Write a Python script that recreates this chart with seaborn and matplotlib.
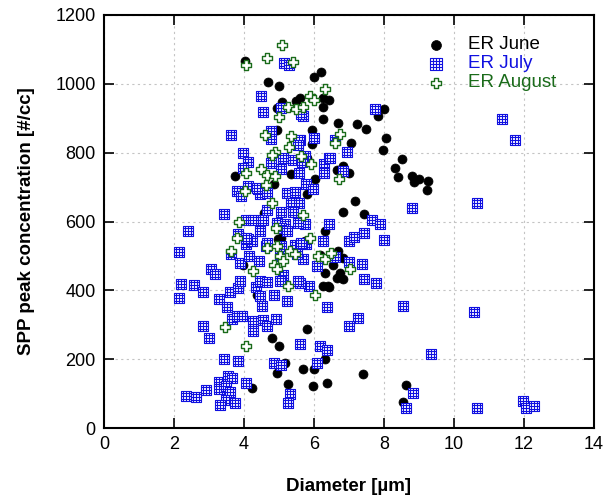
import numpy as np
import pandas as pd
import matplotlib
matplotlib.use("Agg")
import matplotlib.pyplot as plt
from matplotlib.path import Path
import seaborn as sns

# ER June (black circles)
june_d = [4.03, 4.69, 4.99, 6.01, 6.21, 5.09, 4.93, 5.50, 5.60, 6.27, 6.43, 6.27, 6.27, 6.69,
          5.95, 4.95, 7.22, 7.50, 8.01, 7.82, 8.06, 7.98, 7.06, 5.93, 8.53, 8.31, 8.41, 8.80,
          8.87, 9.01, 9.25, 9.24, 5.79, 6.03, 5.81, 6.65, 6.84, 7.01, 7.17, 6.82, 7.44, 3.74,
          5.35, 4.86, 5.46, 4.58, 6.31, 5.07, 5.74, 3.98, 4.98, 6.17, 6.31, 6.55, 6.65, 6.41,
          6.27, 6.84, 6.74, 6.69, 6.82, 6.43, 5.79, 4.79, 4.36, 6.31, 5.69, 5.99, 5.98, 6.36,
          7.41, 8.64, 8.55, 5.00, 5.17, 4.93, 5.27, 4.23]
june_c = [1065, 1005, 993, 1021, 1034, 947, 929, 950, 960, 960, 953, 933, 897, 887,
          867, 866, 882, 868, 928, 908, 843, 807, 829, 824, 782, 756, 729, 732,
          714, 725, 719, 691, 785, 724, 681, 751, 761, 740, 659, 627, 621, 732,
          737, 710, 650, 626, 574, 553, 543, 475, 548, 504, 451, 475, 437, 412,
          412, 495, 451, 514, 434, 411, 287, 262, 388, 200, 172, 172, 122, 132,
          156, 124, 76, 240, 190, 161, 127, 117]

# ER July (blue gridded squares)
july_d = [7.74, 11.39, 11.74, 6.00, 6.60, 6.93, 6.43, 6.29, 6.29, 6.82, 5.74, 5.60, 5.68, 5.77,
          5.98, 8.79, 10.65, 6.43, 5.74, 7.65, 7.89, 6.25, 7.01, 7.14, 7.43, 8.00, 5.77, 6.60,
          7.01, 7.36, 6.09, 5.69, 7.43, 7.78, 5.86, 5.60, 6.38, 8.55, 10.57, 7.27, 7.01, 6.17,
          6.36, 6.09, 9.36, 8.82, 8.64, 10.65, 11.98, 12.06, 12.29, 5.60, 5.15, 5.29, 4.49,
          4.55, 5.07, 5.62, 3.62, 4.78, 4.78, 5.58, 5.55, 3.96, 4.12, 3.96, 4.78, 5.10, 5.41,
          5.65, 5.07, 5.58, 6.46, 4.12, 4.41, 3.79, 3.91, 4.46, 4.65, 5.22, 5.46, 5.58, 5.33,
          4.65, 5.07, 5.41, 3.43, 2.41, 2.15, 4.07, 4.27, 4.55, 4.93, 5.17, 5.55, 3.84, 4.12,
          4.46, 4.07, 4.22, 4.63, 5.07, 5.46, 5.71, 3.62, 3.88, 4.15, 4.44, 5.03, 5.51, 3.06,
          3.17, 5.12, 2.20, 2.58, 2.84, 2.13, 3.60, 3.84, 3.89, 4.34, 4.46, 4.65, 4.86, 5.03,
          4.46, 4.51, 5.22, 5.55, 3.29, 3.52, 3.65, 3.79, 3.93, 4.27, 4.55, 4.65, 4.91, 4.25,
          2.82, 3.00, 4.86, 5.07, 3.43, 3.83, 4.07, 3.27, 3.29, 3.55, 3.65, 3.48, 3.60, 2.91,
          2.35, 2.63, 3.48, 3.74, 3.31, 5.30, 5.27, 4.36, 5.07, 5.22, 4.06, 4.67, 5.64]
july_c = [926, 898, 836, 843, 836, 802, 785, 766, 742, 747, 790, 838, 908, 710,
          695, 638, 655, 592, 592, 604, 592, 543, 543, 556, 566, 546, 534, 498,
          482, 478, 471, 490, 432, 422, 412, 422, 353, 354, 338, 319, 298, 238,
          226, 190, 214, 101, 59, 59, 78, 59, 64, 243, 1061, 1056, 966,
          918, 929, 911, 850, 863, 839, 838, 821, 800, 773, 756, 771, 785, 780,
          773, 753, 742, 785, 703, 695, 688, 674, 679, 684, 684, 685, 655, 655,
          635, 627, 627, 621, 573, 511, 604, 604, 604, 596, 592, 596, 563, 548,
          572, 534, 543, 529, 529, 531, 534, 505, 480, 500, 485, 500, 505, 461,
          449, 446, 420, 417, 395, 379, 395, 408, 427, 411, 427, 424, 388, 427,
          383, 356, 369, 427, 376, 353, 318, 325, 325, 311, 314, 298, 318, 282,
          298, 261, 190, 183, 200, 195, 130, 134, 114, 151, 146, 122, 105, 112,
          93, 90, 83, 72, 66, 100, 72, 698, 582, 572, 553, 538, 538]

# ER August (green open crosses)
aug_d = [5.09, 4.67, 5.41, 4.07, 6.31, 5.89, 6.01, 5.26, 5.50, 5.69, 5.00, 6.74, 4.60, 5.34,
         6.60, 5.29, 4.89, 4.79, 5.64, 5.91, 4.48, 4.07, 4.65, 4.89, 4.63, 6.72, 4.03, 4.81,
         5.69, 3.86, 4.90, 5.89, 3.79, 3.63, 4.67, 4.93, 5.31, 5.46, 5.03, 5.12, 4.86, 4.95,
         6.12, 6.31, 6.50, 4.27, 5.27, 6.03, 3.46, 4.07, 7.03]
aug_c = [1114, 1076, 1063, 1056, 984, 964, 953, 933, 928, 933, 904, 853, 850, 848,
         829, 817, 802, 792, 790, 766, 753, 742, 734, 732, 705, 724, 688, 655,
         618, 598, 580, 551, 551, 514, 524, 529, 514, 505, 500, 485, 475, 461,
         500, 490, 509, 456, 412, 388, 295, 238, 463]

series_names = ["ER June", "ER July", "ER August"]
series_colors = ["black", "#1010e0", "#1a6b1a"]

df = pd.concat([
    pd.DataFrame({"Diameter": june_d, "Conc": june_c, "Series": series_names[0]}),
    pd.DataFrame({"Diameter": july_d, "Conc": july_c, "Series": series_names[1]}),
    pd.DataFrame({"Diameter": aug_d, "Conc": aug_c, "Series": series_names[2]}),
], ignore_index=True)

# square with inner grid marker
verts = [(-1, -1), (1, -1), (1, 1), (-1, 1), (-1, -1)]
codes = [Path.MOVETO, Path.LINETO, Path.LINETO, Path.LINETO, Path.CLOSEPOLY]
for t in (-0.5, 0.0, 0.5):
    verts += [(t, -1), (t, 1), (-1, t), (1, t)]
    codes += [Path.MOVETO, Path.LINETO, Path.MOVETO, Path.LINETO]
grid_square = Path(verts, codes)

sns.set_style("ticks")
plt.rcParams["font.family"] = ["Liberation Sans", "DejaVu Sans"]
plt.rcParams["text.color"] = "black"
plt.rcParams["axes.labelcolor"] = "black"
plt.rcParams["xtick.color"] = "black"
plt.rcParams["ytick.color"] = "black"

fig, ax = plt.subplots(figsize=(6.09, 4.99), dpi=100)
fig.subplots_adjust(left=0.171, right=0.975, top=0.970, bottom=0.142)

sns.scatterplot(data=df[df.Series == "ER June"], x="Diameter", y="Conc", ax=ax,
                color="black", marker="o", s=42, edgecolor="black", linewidth=0.5,
                label="ER June", zorder=3)
sns.scatterplot(data=df[df.Series == "ER July"], x="Diameter", y="Conc", ax=ax,
                marker=grid_square, s=52, facecolor="white", edgecolor="#1010e0",
                linewidth=0.8, label="ER July", zorder=4)
sns.scatterplot(data=df[df.Series == "ER August"], x="Diameter", y="Conc", ax=ax,
                marker="P", s=50, facecolor="white", edgecolor="#1a6b1a",
                linewidth=1.0, label="ER August", zorder=5)

ax.set_xlim(0, 14)
ax.set_ylim(0, 1200)
ax.set_xticks(range(0, 15, 2))
ax.set_yticks(range(0, 1201, 200))
ax.grid(True, linestyle=(0, (2, 3)), color="#c4c4c4", linewidth=0.8)
ax.tick_params(direction="in", length=7, width=1.2, top=True, right=True,
               labelsize=13, pad=6)
for sp in ax.spines.values():
    sp.set_linewidth(1.5)
    sp.set_color("black")

ax.set_xlabel("Diameter [\u00b5m]", fontsize=13.5, fontweight="bold", labelpad=18)
ax.set_ylabel("SPP peak concentration [#/cc]", fontsize=13.5, fontweight="bold", labelpad=15)

leg = ax.legend(loc="upper right", bbox_to_anchor=(0.95, 0.98), frameon=False,
                fontsize=13.5, handletextpad=0.7, labelspacing=0.1, borderaxespad=0.3,
                markerscale=1.1)
for txt, c in zip(leg.get_texts(), series_colors):
    txt.set_color(c)

fig.savefig("out.png", dpi=100)
